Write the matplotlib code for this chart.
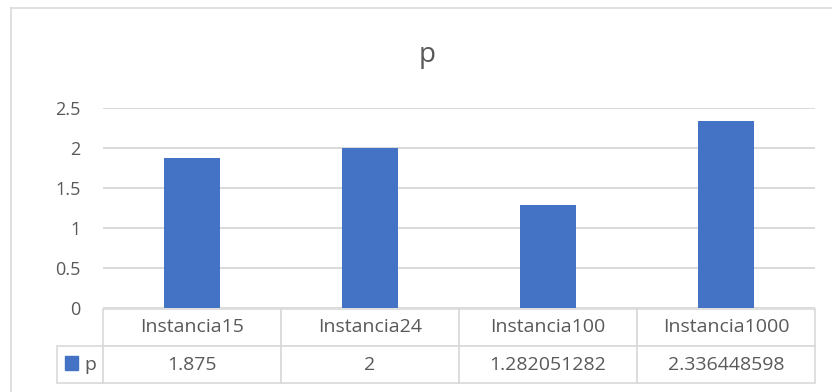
import matplotlib.pyplot as plt
from matplotlib.patches import Rectangle
from matplotlib.lines import Line2D
from matplotlib.ticker import FuncFormatter

categories = ["Instancia15", "Instancia24", "Instancia100", "Instancia1000"]
p_values = [1.875, 2, 1.282051282, 2.336448598]
series_name = "p"
y_ticks = [0, 0.5, 1, 1.5, 2, 2.5]

bar_color = "#4472C4"
grid_color = "#D9D9D9"
text_color = "#595959"

plt.rcParams["font.family"] = ["Open Sans", "DejaVu Sans"]

fig = plt.figure(figsize=(8.32, 3.92), dpi=100)
W, H = 832, 392

# chart area outline (left and top edges)
fig.add_artist(Line2D([11 / W, 11 / W], [0, 1 - 8 / H], transform=fig.transFigure,
                      color=grid_color, lw=1.2))
fig.add_artist(Line2D([11 / W, 1], [1 - 8 / H, 1 - 8 / H], transform=fig.transFigure,
                      color=grid_color, lw=1.2))

left, right = 103 / W, 815 / W
bottom, top = 1 - 308 / H, 1 - 108 / H
ax = fig.add_axes([left, bottom, right - left, top - bottom])

x = range(len(categories))
ax.bar(x, p_values, width=0.31, color=bar_color, zorder=3)
ax.set_xlim(-0.5, len(categories) - 0.5)
ax.set_ylim(0, 2.5)
ax.set_yticks(y_ticks)
ax.yaxis.set_major_formatter(FuncFormatter(lambda v, _: f"{v:g}"))
ax.set_xticks([])
ax.grid(axis="y", color=grid_color, lw=1.4, zorder=0)
for s in ax.spines.values():
    s.set_visible(False)
ax.tick_params(axis="y", length=0, pad=16, labelsize=13, labelcolor=text_color)

fig.text(427 / W, 1 - 55 / H, series_name, ha="center", va="center",
         fontsize=20, color=text_color)

# data table under the plot
ax_w_px = 815 - 103
ax_h_px = 200
label_w = 46 / ax_w_px
tbl_h = 74 / ax_h_px
cell_text = [[""] + categories,
             [series_name] + [f"{v:.10g}" for v in p_values]]
col_w = [label_w] + [1 / len(categories)] * len(categories)
tbl = ax.table(cellText=cell_text, cellLoc="center", colWidths=col_w,
               bbox=[-label_w, -tbl_h - 1 / ax_h_px, 1 + label_w, tbl_h])
tbl.auto_set_font_size(False)
for (r, c), cell in tbl.get_celld().items():
    cell.set_edgecolor(grid_color)
    cell.set_linewidth(1.2)
    cell.get_text().set_fontsize(14)
    cell.get_text().set_color(text_color)
    if r == 0 and c == 0:
        cell.visible_edges = ""
    if r == 1 and c == 0:
        cell.get_text().set_ha("right")
        cell._loc = "right"
        cell.PAD = 0.15

# legend key in the series label cell
ax.add_patch(Rectangle(((65 - 103) / ax_w_px, -(370 - 308) / ax_h_px),
                       13 / ax_w_px, 14 / ax_h_px, transform=ax.transAxes,
                       color=bar_color, clip_on=False))

fig.savefig("out.png", dpi=100)
